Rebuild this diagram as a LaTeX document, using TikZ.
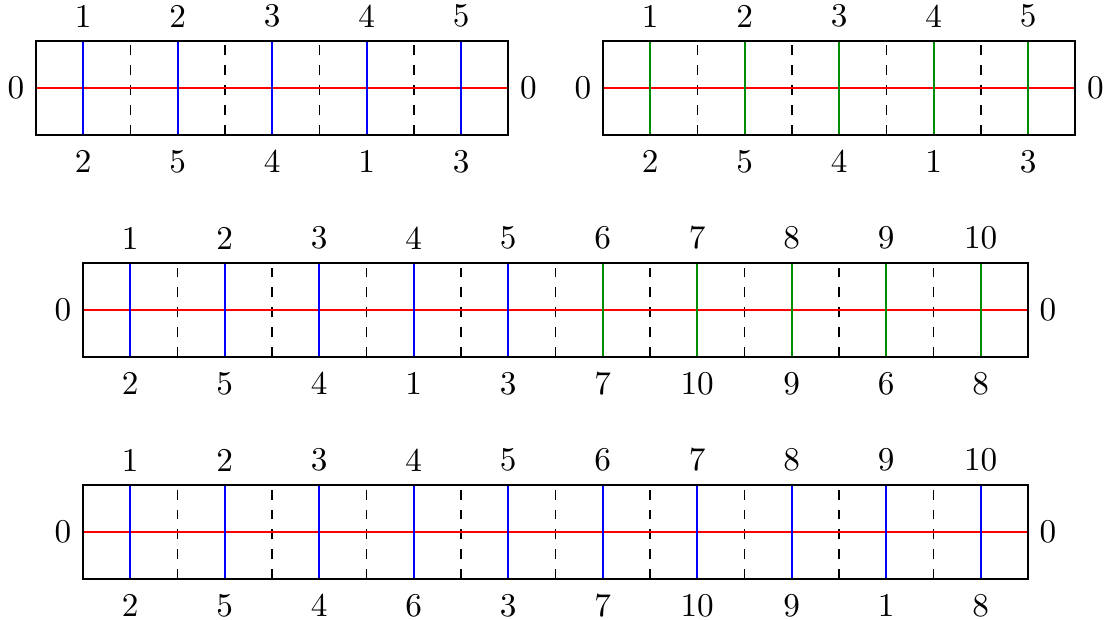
\documentclass[tikz,border=0pt]{standalone}
\usepackage{tikz}
\usetikzlibrary{calc}

\begin{document}
\begin{tikzpicture}[
    frame/.style={draw,semithick},
    axis/.style={red,semithick},
    cut/.style={dashed,thin},
    blueline/.style={blue,semithick},
    greenline/.style={green!55!black,semithick},
    every node/.style={font=\normalsize}
]
\useasboundingbox (0,0) rectangle (11.704,-6.561);

%------------------------------------------------
% Faixa A (azul)
%------------------------------------------------
\begin{scope}[shift={(0.381,-0.93)}]
    \foreach \i in {1,...,4}
        \draw[cut] (\i,-0.5) -- (\i,0.5);
    \draw[axis] (0,0) -- (5,0);
    \foreach \i/\j in {1/2,2/5,3/4,4/1,5/3}
    {
        \draw[blueline] (\i-0.5,-0.5) -- (\i-0.5,0.5);
        \node[above=0.5pt] (a-top-\i) at (\i-0.5,0.5) {\i};
        \node[below=1pt] (a-bot-\i) at (\i-0.5,-0.5) {\j};
    }
    \draw[frame] (0,-0.5) rectangle (5,0.5);
    \node[left] (a-esq) at (0,0) {0};
    \node[right] (a-dir) at (5,0) {0};
\end{scope}

%------------------------------------------------
% Faixa B (verde)
%------------------------------------------------
\begin{scope}[shift={(6.381,-0.93)}]
    \foreach \i in {1,...,4}
        \draw[cut] (\i,-0.5) -- (\i,0.5);
    \draw[axis] (0,0) -- (5,0);
    \foreach \i/\j in {1/2,2/5,3/4,4/1,5/3}
    {
        \draw[greenline] (\i-0.5,-0.5) -- (\i-0.5,0.5);
        \node[above=0.5pt] (b-top-\i) at (\i-0.5,0.5) {\i};
        \node[below=1pt] (b-bot-\i) at (\i-0.5,-0.5) {\j};
    }
    \draw[frame] (0,-0.5) rectangle (5,0.5);
    \node[left] (b-esq) at (0,0) {0};
    \node[right] (b-dir) at (5,0) {0};
\end{scope}

%------------------------------------------------
% Faixa C (azul + verde)
%------------------------------------------------
\begin{scope}[shift={(0.878,-3.28)}]
    \foreach \i in {1,...,9}
        \draw[cut] (\i,-0.5) -- (\i,0.5);
    \draw[axis] (0,0) -- (10,0);
    \foreach \i in {1,...,5}
        \draw[blueline] (\i-0.5,-0.5) -- (\i-0.5,0.5);
    \foreach \i in {6,...,10}
        \draw[greenline] (\i-0.5,-0.5) -- (\i-0.5,0.5);
    \foreach \i/\j in {1/2,2/5,3/4,4/1,5/3,6/7,7/10,8/9,9/6,10/8}
    {
        \node[above=0.5pt] (c-top-\i) at (\i-0.5,0.5) {\i};
        \node[below=1pt] (c-bot-\i) at (\i-0.5,-0.5) {\j};
    }
    \draw[frame] (0,-0.5) rectangle (10,0.5);
    \node[left] (c-esq) at (0,0) {0};
    \node[right] (c-dir) at (10,0) {0};
\end{scope}

%------------------------------------------------
% Faixa D (azul)
%------------------------------------------------
\begin{scope}[shift={(0.878,-5.63)}]
    \foreach \i in {1,...,9}
        \draw[cut] (\i,-0.5) -- (\i,0.5);
    \draw[axis] (0,0) -- (10,0);
    \foreach \i/\j in {1/2,2/5,3/4,4/6,5/3,6/7,7/10,8/9,9/1,10/8}
    {
        \draw[blueline] (\i-0.5,-0.5) -- (\i-0.5,0.5);
        \node[above=0.5pt] (d-top-\i) at (\i-0.5,0.5) {\i};
        \node[below=1pt] (d-bot-\i) at (\i-0.5,-0.5) {\j};
    }
    \draw[frame] (0,-0.5) rectangle (10,0.5);
    \node[left] (d-esq) at (0,0) {0};
    \node[right] (d-dir) at (10,0) {0};
\end{scope}

\end{tikzpicture}
\end{document}
